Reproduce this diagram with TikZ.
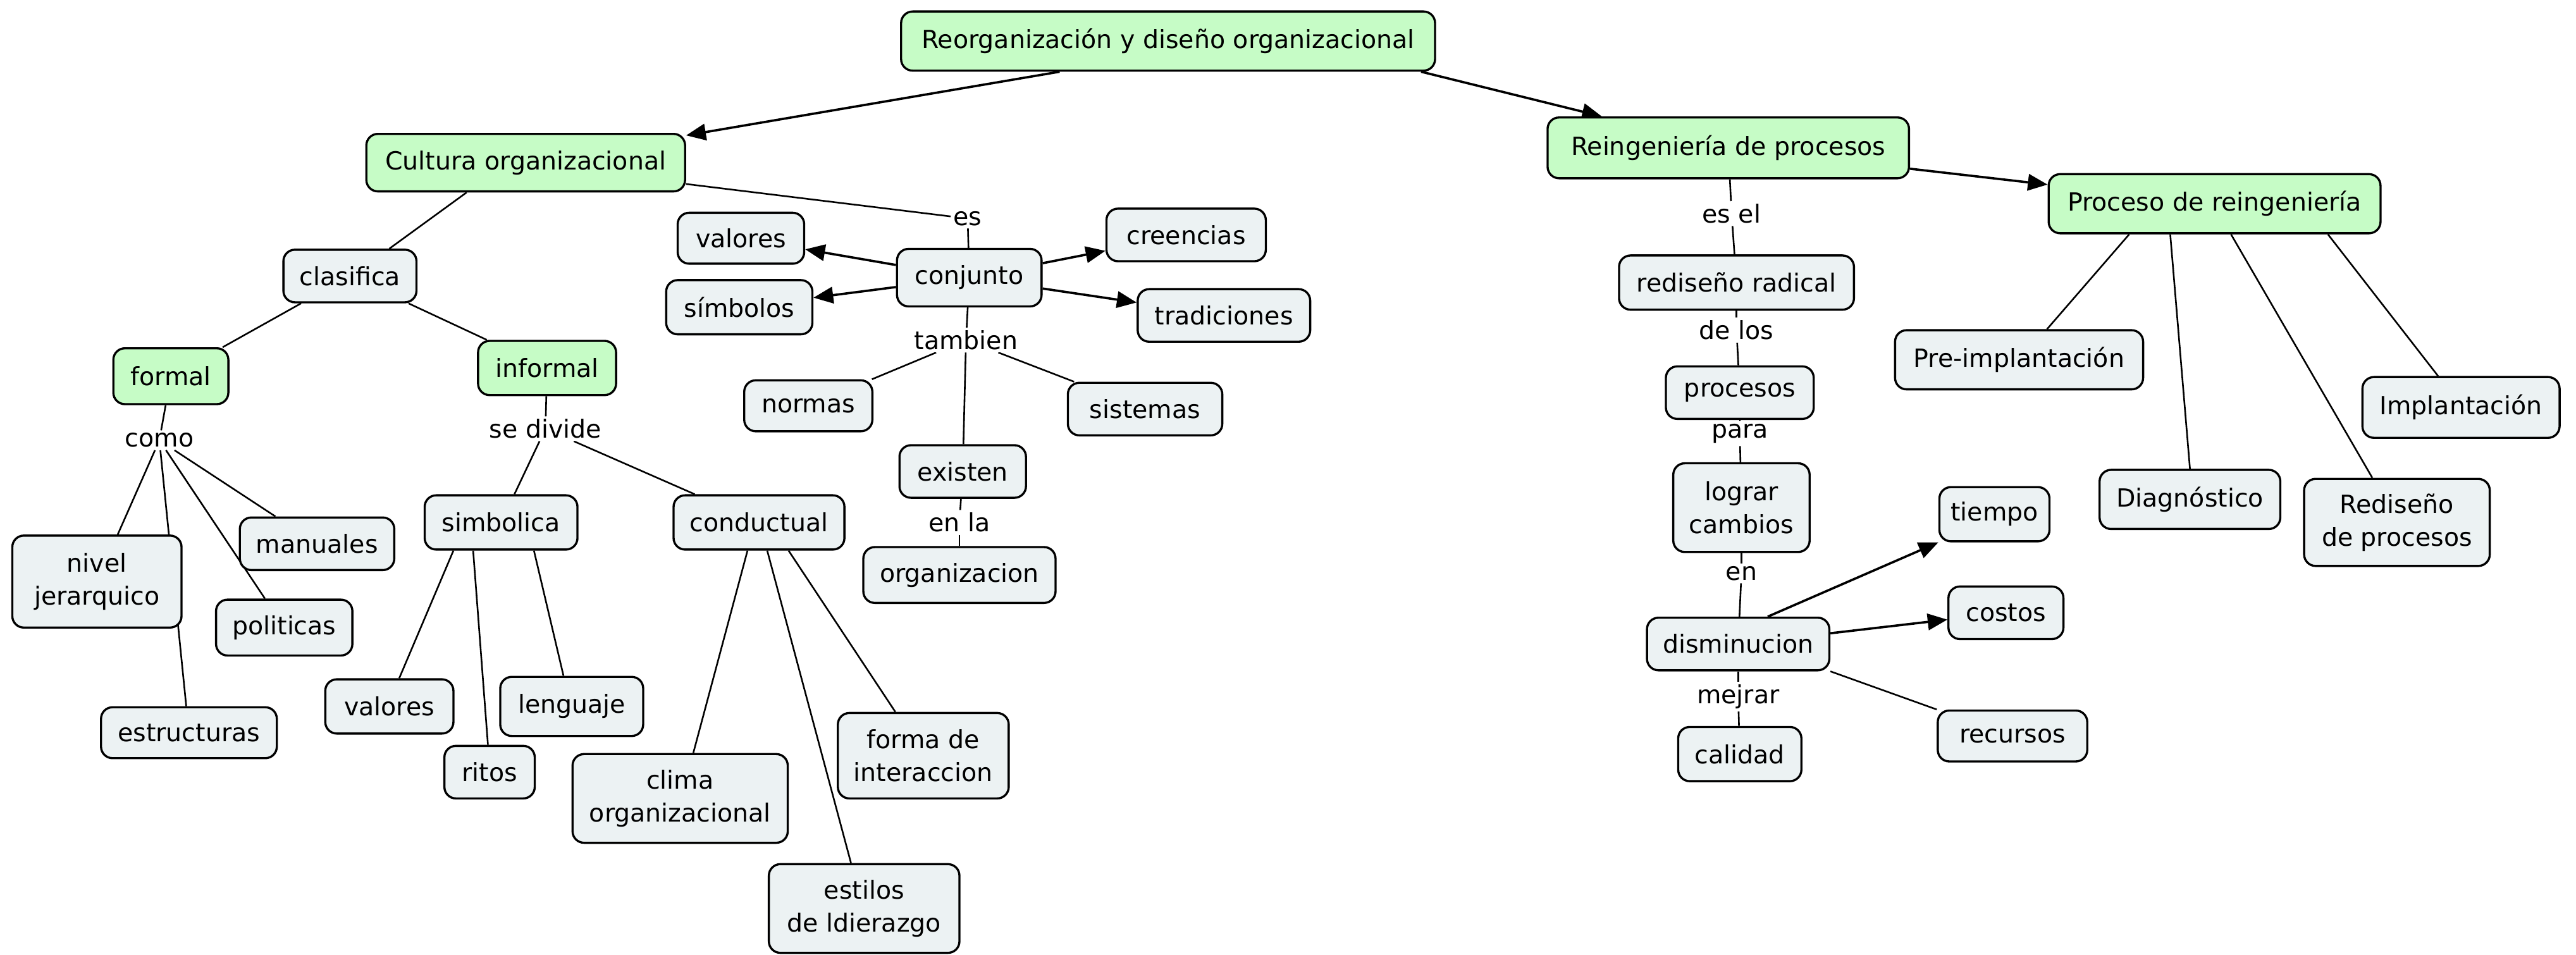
\documentclass[tikz,border=0pt]{standalone}
\usepackage{fontspec}
\setmainfont{DejaVu Sans}
\usetikzlibrary{arrows.meta}
\definecolor{gfill}{RGB}{198,252,198}
\definecolor{bfill}{RGB}{236,242,243}
\pgfdeclarelayer{bg}
\pgfsetlayers{bg,main}
\begin{document}
\begin{tikzpicture}[x=1pt,y=-1pt,
  font=\fontsize{15.2}{20}\selectfont,
  cbox/.style={draw=black, line width=1.3pt, rounded corners=7pt, inner sep=0pt, align=center},
  gbox/.style={cbox, fill=gfill},
  bbox/.style={cbox, fill=bfill},
  lbl/.style={inner sep=1.5pt, fill=white},
  ln/.style={line width=1pt},
  arr/.style={line width=1.4pt, -{Triangle[length=12pt,width=10pt]}}]
\useasboundingbox (0,0) rectangle (1568,581);
% main nodes
\node[gbox, minimum width=325, minimum height=36] (root) at (711,25) {Reorganización y diseño organizacional};
\node[gbox, minimum width=194, minimum height=35] (cult) at (320,99) {Cultura organizacional};
\node[gbox, minimum width=220, minimum height=37] (reing) at (1052,90) {Reingeniería de procesos};
\node[gbox, minimum width=202, minimum height=36] (proc) at (1348,124) {Proceso de reingeniería};
% left part
\node[bbox, minimum width=81, minimum height=32] (clas) at (213,168) {clasifica};
\node[gbox, minimum width=70, minimum height=34] (formal) at (104,229) {formal};
\node[gbox, minimum width=84, minimum height=33] (inform) at (333,224) {informal};
\node[lbl] (como) at (97,268) {como};
\node[lbl] (sediv) at (332,261) {se divide};
\node[bbox, minimum width=103, minimum height=56] (nivel) at (59,354) {nivel\\jerarquico};
\node[bbox, minimum width=94, minimum height=32] (manu) at (193,331) {manuales};
\node[bbox, minimum width=83, minimum height=34] (poli) at (173,382) {politicas};
\node[bbox, minimum width=107, minimum height=31] (estr) at (115,446) {estructuras};
\node[bbox, minimum width=93, minimum height=33] (simb) at (305,318) {simbolica};
\node[bbox, minimum width=104, minimum height=33] (cond) at (462,318) {conductual};
\node[bbox, minimum width=78, minimum height=33] (valb) at (237,430) {valores};
\node[bbox, minimum width=55, minimum height=32] (ritos) at (298,470) {ritos};
\node[bbox, minimum width=87, minimum height=36] (leng) at (348,430) {lenguaje};
\node[bbox, minimum width=131, minimum height=54] (clima) at (414,486) {clima\\organizacional};
\node[bbox, minimum width=104, minimum height=52] (forma) at (562,460) {forma de\\interaccion};
\node[bbox, minimum width=116, minimum height=54] (estil) at (526,553) {estilos\\de ldierazgo};
% middle part
\node[lbl] (es) at (589,133) {es};
\node[bbox, minimum width=77, minimum height=31] (vala) at (451,145) {valores};
\node[bbox, minimum width=89, minimum height=33] (simbo) at (450,187) {símbolos};
\node[bbox, minimum width=88, minimum height=35] (conj) at (590,169) {conjunto};
\node[bbox, minimum width=97, minimum height=32] (cree) at (722,143) {creencias};
\node[bbox, minimum width=105, minimum height=32] (trad) at (745,192) {tradiciones};
\node[lbl] (tamb) at (588,207) {tambien};
\node[bbox, minimum width=78, minimum height=31] (norm) at (492,247) {normas};
\node[bbox, minimum width=94, minimum height=32] (sist) at (697,249) {sistemas};
\node[bbox, minimum width=77, minimum height=32] (exis) at (586,287) {existen};
\node[lbl] (enla) at (584,318) {en la};
\node[bbox, minimum width=117, minimum height=34] (orga) at (584,350) {organizacion};
% right chain
\node[lbl] (esel) at (1054,130) {es el};
\node[bbox, minimum width=143, minimum height=33] (redr) at (1057,172) {rediseño radical};
\node[lbl] (delos) at (1057,201) {de los};
\node[bbox, minimum width=90, minimum height=32] (procs) at (1059,239) {procesos};
\node[lbl] (para) at (1059,264) {para};
\node[bbox, minimum width=83, minimum height=54] (logr) at (1060,309) {lograr\\cambios};
\node[lbl] (en) at (1060,349) {en};
\node[bbox, minimum width=111, minimum height=32] (dism) at (1058,392) {disminucion};
\node[lbl] (mejr) at (1058,424) {mejrar};
\node[bbox, minimum width=75, minimum height=33] (cali) at (1059,459) {calidad};
\node[bbox, minimum width=67, minimum height=33] (tiem) at (1214,313) {tiempo};
\node[bbox, minimum width=70, minimum height=32] (cost) at (1221,373) {costos};
\node[bbox, minimum width=91, minimum height=31] (recu) at (1225,448) {recursos};
% proceso children
\node[bbox, minimum width=151, minimum height=36] (prei) at (1229,219) {Pre-implantación};
\node[bbox, minimum width=110, minimum height=36] (diag) at (1333,304) {Diagnóstico};
\node[bbox, minimum width=113, minimum height=53] (redp) at (1459,318) {Rediseño\\de procesos};
\node[bbox, minimum width=120, minimum height=37] (impl) at (1498,248) {Implantación};

\begin{pgfonlayer}{bg}
% arrows
\draw[arr] ([xshift=-66pt]root.south) -- (cult);
\draw[arr] ([xshift=154pt]root.south) -- ([xshift=-77pt]reing.north);
\draw[arr] (reing) -- (proc);
\draw[arr] (conj) -- (vala);
\draw[arr] (conj) -- (simbo);
\draw[arr] (conj) -- (cree);
\draw[arr] (conj) -- (trad);
\draw[arr] ([xshift=18pt]dism.north) -- (tiem.south west);
\draw[arr] (dism) -- (cost);
% lines
\draw[ln] ([xshift=-36pt]cult.south) -- ([xshift=24pt]clas.north);
\draw[ln] (clas) -- (formal);
\draw[ln] (clas) -- (inform);
\draw[ln] (formal) -- (como);
\draw[ln] (como) -- (nivel);
\draw[ln] (como) -- (estr);
\draw[ln] (como) -- (manu);
\draw[ln] (como) -- (poli);
\draw[ln] (inform) -- (sediv);
\draw[ln] (sediv) -- (simb);
\draw[ln] (sediv) -- (cond);
\draw[ln] ([xshift=-29pt]simb.south) -- ([xshift=6pt]valb.north);
\draw[ln] ([xshift=-17pt]simb.south) -- ([xshift=-1pt]ritos.north);
\draw[ln] ([xshift=20pt]simb.south) -- ([xshift=-5pt]leng.north);
\draw[ln] ([xshift=-7pt]cond.south) -- ([xshift=8pt]clima.north);
\draw[ln] ([xshift=5pt]cond.south) -- ([xshift=-8pt]estil.north);
\draw[ln] ([xshift=18pt]cond.south) -- ([xshift=-17pt]forma.north);
\draw[ln] ([yshift=-13pt]cult.east) -- (es);
\draw[ln] (es) -- (conj);
\draw[ln] (conj) -- (tamb);
\draw[ln] (tamb) -- (norm);
\draw[ln] (tamb) -- (sist);
\draw[ln] (tamb) -- (exis);
\draw[ln] (exis) -- (enla);
\draw[ln] (enla) -- (orga);
\draw[ln] (reing) -- (esel);
\draw[ln] (esel) -- (redr);
\draw[ln] (redr) -- (delos);
\draw[ln] (delos) -- (procs);
\draw[ln] (procs) -- (para);
\draw[ln] (para) -- (logr);
\draw[ln] (logr) -- (en);
\draw[ln] (en) -- (dism);
\draw[ln] (dism) -- (mejr);
\draw[ln] (mejr) -- (cali);
\draw[ln] (dism.south east) -- (recu.north west);
\draw[ln] ([xshift=-52pt]proc.south) -- ([xshift=17pt]prei.north);
\draw[ln] ([xshift=-27pt]proc.south) -- (diag.north);
\draw[ln] ([xshift=10pt]proc.south) -- ([xshift=-15pt]redp.north);
\draw[ln] ([xshift=69pt]proc.south) -- ([xshift=-14pt]impl.north);
\end{pgfonlayer}
\end{tikzpicture}
\end{document}
